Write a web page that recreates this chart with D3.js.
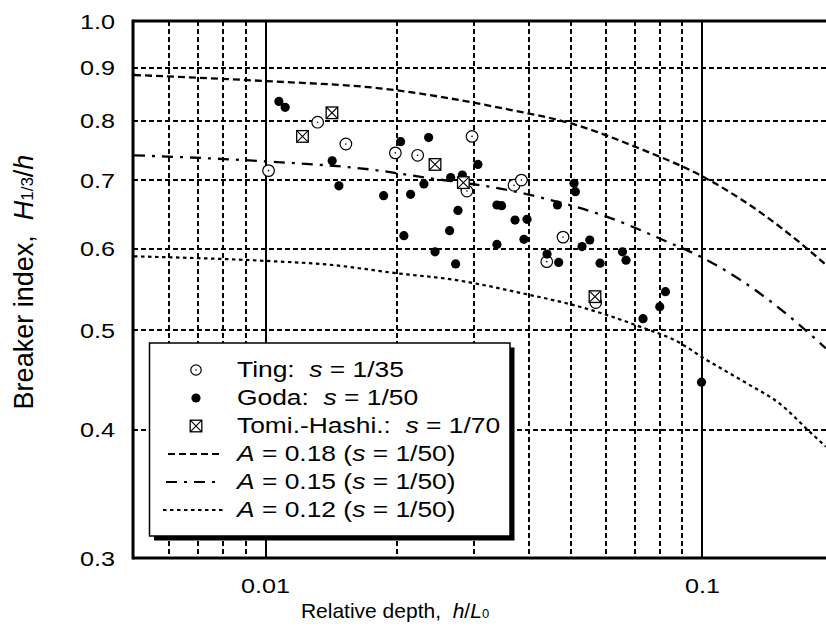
<!DOCTYPE html>
<html><head><meta charset="utf-8">
<script src="https://cdn.jsdelivr.net/npm/d3@7/dist/d3.min.js"></script>
<style>
body{margin:0;background:#fff}
text{font-family:"Liberation Sans",Arial,sans-serif;fill:#000;white-space:pre}
</style>
</head><body>
<svg id="chart" width="826" height="638"></svg>
<script>
// ---- axes / ticks ----
const xDomain = [0.005, 0.2];
const yDomain = [0.3, 1.0];
const xTickValues = [0.01, 0.1];
const xTickLabels = ["0.01", "0.1"];
const yTickValues = [0.3, 0.4, 0.5, 0.6, 0.7, 0.8, 0.9, 1.0];
const yTickLabels = ["0.3", "0.4", "0.5", "0.6", "0.7", "0.8", "0.9", "1.0"];
const xMinorGrid = [0.006, 0.007, 0.008, 0.009, 0.02, 0.03, 0.04, 0.05, 0.06, 0.07, 0.08, 0.09];
const yGrid = [0.4, 0.5, 0.6, 0.7, 0.8, 0.9];

// ---- data: Ting s=1/35 ----
const tingX = [0.01016, 0.01316, 0.01527, 0.01982, 0.02229, 0.02969, 0.0289, 0.03704, 0.03851, 0.04402, 0.04796, 0.05697];
const tingY = [0.715, 0.797, 0.759, 0.744, 0.740, 0.772, 0.683, 0.692, 0.700, 0.583, 0.616, 0.532];

// ---- data: Goda s=1/50 ----
const godaX = [0.01073, 0.01109, 0.01421, 0.01472, 0.01863, 0.02038, 0.02073, 0.02148, 0.02304, 0.02362,
  0.02443, 0.02638, 0.02653, 0.02723, 0.02757, 0.02821, 0.03063, 0.03385, 0.0347, 0.03385,
  0.03724, 0.03966, 0.03903, 0.04409, 0.04656, 0.04688, 0.05082, 0.05118, 0.0530, 0.05521,
  0.05830, 0.06559, 0.06684, 0.07311, 0.07984, 0.08228, 0.0995];
const godaY = [0.835, 0.824, 0.731, 0.691, 0.676, 0.763, 0.618, 0.678, 0.694, 0.770,
  0.596, 0.625, 0.704, 0.580, 0.654, 0.708, 0.725, 0.662, 0.661, 0.606,
  0.640, 0.641, 0.613, 0.593, 0.662, 0.582, 0.695, 0.682, 0.603, 0.612,
  0.581, 0.596, 0.585, 0.513, 0.527, 0.545, 0.445];

// ---- data: Tomita-Hashimoto s=1/70 ----
const tomiX = [0.01215, 0.01419, 0.02443, 0.02836, 0.05675];
const tomiY = [0.772, 0.814, 0.725, 0.696, 0.539];

// ---- curves ----
const curveA18X = [0.005, 0.01, 0.01824, 0.03651, 0.04891, 0.07311, 0.0986, 0.1330, 0.1730, 0.1916];
const curveA18Y = [0.886, 0.874, 0.860, 0.819, 0.797, 0.749, 0.708, 0.655, 0.601, 0.579];
const curveA15X = [0.005, 0.01, 0.0173, 0.02374, 0.03494, 0.04393, 0.06029, 0.08271, 0.0986, 0.1218, 0.1451, 0.1613, 0.1916];
const curveA15Y = [0.740, 0.730, 0.717, 0.703, 0.686, 0.671, 0.645, 0.610, 0.590, 0.560, 0.531, 0.512, 0.480];
const curveA12X = [0.005, 0.01, 0.01401, 0.02, 0.02685, 0.03953, 0.05236, 0.07187, 0.08872, 0.1003, 0.1261, 0.1503, 0.1761, 0.1916];
const curveA12Y = [0.590, 0.584, 0.579, 0.568, 0.560, 0.542, 0.527, 0.504, 0.486, 0.470, 0.444, 0.424, 0.398, 0.385];

const svg = d3.select("#chart");
const plot = {left: 133, top: 21, bottom: 558};
const x = d3.scaleLog().domain(xDomain).range([134, 834]);
const y = d3.scaleLog().domain(yDomain).range([plot.bottom, plot.top]);

svg.append("defs").append("clipPath").attr("id", "clip")
  .append("rect").attr("x", plot.left).attr("y", plot.top)
  .attr("width", 826 - plot.left).attr("height", plot.bottom - plot.top);

const g = svg.append("g");

// grid
g.selectAll(".vg").data(xMinorGrid).enter().append("line")
  .attr("x1", d => Math.round(x(d))).attr("x2", d => Math.round(x(d))).attr("y1", plot.top).attr("y2", plot.bottom)
  .attr("stroke", "#000").attr("stroke-width", 2).attr("stroke-dasharray", "5,3").attr("shape-rendering", "crispEdges");
g.selectAll(".hg").data(yGrid).enter().append("line")
  .attr("x1", plot.left).attr("x2", 826).attr("y1", d => Math.round(y(d))).attr("y2", d => Math.round(y(d)))
  .attr("stroke", "#000").attr("stroke-width", 2).attr("stroke-dasharray", "5,3").attr("shape-rendering", "crispEdges");
g.selectAll(".vs").data(xTickValues).enter().append("line")
  .attr("x1", d => Math.round(x(d))).attr("x2", d => Math.round(x(d))).attr("y1", plot.top).attr("y2", plot.bottom)
  .attr("stroke", "#000").attr("stroke-width", 2).attr("shape-rendering", "crispEdges");

// frame
g.append("line").attr("x1", plot.left).attr("x2", 826).attr("y1", plot.top).attr("y2", plot.top)
  .attr("stroke", "#000").attr("stroke-width", 3);
g.append("line").attr("x1", plot.left).attr("x2", 826).attr("y1", plot.bottom).attr("y2", plot.bottom)
  .attr("stroke", "#000").attr("stroke-width", 3);
g.append("line").attr("x1", plot.left).attr("x2", plot.left).attr("y1", plot.top - 1.5).attr("y2", plot.bottom + 1.5)
  .attr("stroke", "#000").attr("stroke-width", 3);

// curves
const line = d3.line().x(d => x(d[0])).y(d => y(d[1])).curve(d3.curveMonotoneX);
const curves = [
  {xs: curveA18X, ys: curveA18Y, dash: "7,4", w: 2.3},
  {xs: curveA15X, ys: curveA15Y, dash: "11,7,3,7", w: 2.3},
  {xs: curveA12X, ys: curveA12Y, dash: "3.5,3.5", w: 2.2}
];
curves.forEach(c => {
  g.append("path").attr("clip-path", "url(#clip)")
    .attr("d", line(c.xs.map((v, i) => [v, c.ys[i]])))
    .attr("fill", "none").attr("stroke", "#000").attr("stroke-width", c.w).attr("stroke-dasharray", c.dash);
});

// markers
function ting(sel, cx, cy, r) {
  sel.append("circle").attr("cx", cx).attr("cy", cy).attr("r", r || 5.8).attr("fill", "#fff").attr("stroke", "#000").attr("stroke-width", 1.2);
  sel.append("circle").attr("cx", cx).attr("cy", cy).attr("r", 0.8).attr("fill", "#000");
}
function goda(sel, cx, cy) {
  sel.append("circle").attr("cx", cx).attr("cy", cy).attr("r", 4.6).attr("fill", "#000");
}
function tomi(sel, cx, cy) {
  const h = 5.8;
  sel.append("rect").attr("x", cx - h).attr("y", cy - h).attr("width", 2 * h).attr("height", 2 * h)
    .attr("fill", "#fff").attr("stroke", "#000").attr("stroke-width", 1.3);
  sel.append("path").attr("d", `M${cx - h},${cy - h}L${cx + h},${cy + h}M${cx + h},${cy - h}L${cx - h},${cy + h}`)
    .attr("stroke", "#000").attr("stroke-width", 1.1);
}
const pts = g.append("g");
tingX.forEach((v, i) => ting(pts, x(v), y(tingY[i])));
godaX.forEach((v, i) => goda(pts, x(v), y(godaY[i])));
tomiX.forEach((v, i) => tomi(pts, x(v), y(tomiY[i])));

// tick labels
yTickValues.forEach((v, i) => {
  svg.append("text").attr("transform", `translate(115,${y(v) + 7.5}) scale(1.2,1)`)
    .attr("text-anchor", "end").attr("font-size", 21).text(yTickLabels[i]);
});
xTickValues.forEach((v, i) => {
  svg.append("text").attr("transform", `translate(${x(v)},593) scale(1.2,1)`)
    .attr("text-anchor", "middle").attr("font-size", 21).text(xTickLabels[i]);
});

// axis titles
const xt = svg.append("text").attr("x", 395).attr("y", 618).attr("text-anchor", "middle").attr("font-size", 21);
xt.append("tspan").text("Relative depth,  ");
xt.append("tspan").attr("font-style", "italic").text("h");
xt.append("tspan").text("/");
xt.append("tspan").attr("font-style", "italic").text("L");
xt.append("tspan").attr("font-size", 13).text("0");

const yt = svg.append("text").attr("transform", "translate(33,282) rotate(-90)").attr("text-anchor", "middle").attr("font-size", 27);
yt.append("tspan").text("Breaker index,  ");
yt.append("tspan").attr("font-style", "italic").text("H");
yt.append("tspan").attr("font-size", 17).text("1/3");
yt.append("tspan").text("/");
yt.append("tspan").attr("font-style", "italic").text("h");

// legend
const lg = svg.append("g");
lg.append("rect").attr("x", 154).attr("y", 347.5).attr("width", 360.5).attr("height", 193).attr("fill", "#000");
lg.append("rect").attr("x", 149.5).attr("y", 343).attr("width", 360.5).attr("height", 193)
  .attr("fill", "#fff").attr("stroke", "#000").attr("stroke-width", 1.5);
const legendRows = [
  {type: "ting", parts: [["Ting:  ", 0], ["s", 1], [" = 1/35", 0]]},
  {type: "goda", parts: [["Goda:  ", 0], ["s", 1], [" = 1/50", 0]]},
  {type: "tomi", parts: [["Tomi.-Hashi.:  ", 0], ["s", 1], [" = 1/70", 0]]},
  {type: "line", dash: "7,4", x1: 168, x2: 223, parts: [["A", 1], [" = 0.18 (", 0], ["s", 1], [" = 1/50)", 0]]},
  {type: "line", dash: "11,7,3,7", x1: 166, x2: 220, parts: [["A", 1], [" = 0.15 (", 0], ["s", 1], [" = 1/50)", 0]]},
  {type: "line", dash: "3.5,3.5", x1: 163, x2: 225, parts: [["A", 1], [" = 0.12 (", 0], ["s", 1], [" = 1/50)", 0]]}
];
legendRows.forEach((r, i) => {
  const cy = 370 + i * 28;
  if (r.type === "ting") ting(lg, 196, cy, 5.2);
  if (r.type === "goda") goda(lg, 196, cy);
  if (r.type === "tomi") tomi(lg, 196, cy);
  if (r.type === "line") lg.append("line").attr("x1", r.x1).attr("x2", r.x2).attr("y1", cy).attr("y2", cy)
    .attr("stroke", "#000").attr("stroke-width", 2.2).attr("stroke-dasharray", r.dash);
  const t = lg.append("text").attr("transform", `translate(237,${cy + 6.5}) scale(1.2,1)`).attr("font-size", 22);
  r.parts.forEach(p => t.append("tspan").attr("font-style", p[1] ? "italic" : "normal").text(p[0]));
});
</script>
</body></html>
